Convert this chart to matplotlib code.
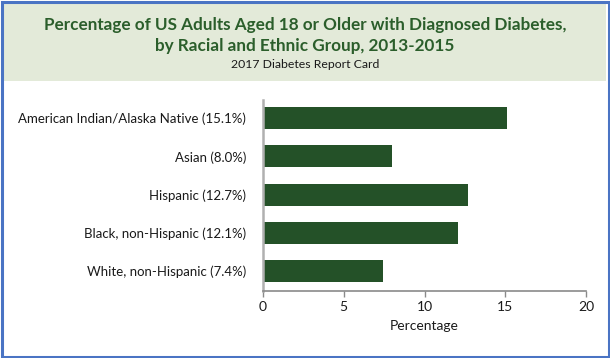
import matplotlib
matplotlib.use("Agg")
import matplotlib.pyplot as plt
from matplotlib.patches import Rectangle

categories = ["American Indian/Alaska Native (15.1%)", "Asian (8.0%)", "Hispanic (12.7%)",
              "Black, non-Hispanic (12.1%)", "White, non-Hispanic (7.4%)"]
values = [15.1, 8.0, 12.7, 12.1, 7.4]
xticks = [0, 5, 10, 15, 20]

BAR = "#245128"
TITLE = "#2b5e2b"
BAND = "#e3ead9"
BORDER = "#4a74c4"
plt.rcParams["font.family"] = ["Lato", "DejaVu Sans"]

fig = plt.figure(figsize=(6.1, 3.58), dpi=100)
W, H = 610, 358
# title band + border
fig.patches.append(Rectangle((3 / W, 1 - 81 / H), 603 / W, 78 / H, transform=fig.transFigure,
                             facecolor=BAND, edgecolor="none", zorder=0))
fig.patches.append(Rectangle((1.5 / W, 1.5 / H), 1 - 3 / W, 1 - 3 / H, transform=fig.transFigure,
                             facecolor="none", edgecolor=BORDER, linewidth=2.2, zorder=5))
fig.text(0.5, 1 - 25 / H, "Percentage of US Adults Aged 18 or Older with Diagnosed Diabetes,",
         ha="center", va="center", fontsize=12.3, fontweight="bold", color=TITLE)
fig.text(0.5, 1 - 46 / H, "by Racial and Ethnic Group, 2013-2015",
         ha="center", va="center", fontsize=12.3, fontweight="bold", color=TITLE)
fig.text(0.5, 1 - 64 / H, "2017 Diabetes Report Card", ha="center", va="center",
         fontsize=8.8, color="#1a1a1a")

ax = fig.add_axes([263 / W, 1 - 291 / H, 323 / W, 191 / H])
ypos = list(range(len(categories)))
ax.barh(ypos, values, height=0.575, color=BAR)
ax.set_ylim(4.52, -0.47)
ax.set_xlim(0, 20)
ax.set_xticks(xticks)
ax.set_yticks(ypos)
ax.set_yticklabels(categories)
for s in ["top", "right"]:
    ax.spines[s].set_visible(False)
ax.spines["left"].set_color("#b0b0b0")
ax.spines["left"].set_linewidth(1.8)
ax.spines["bottom"].set_color("#8a8a8a")
ax.spines["bottom"].set_linewidth(1.2)
ax.tick_params(axis="y", length=0, pad=12, labelsize=9.5, labelcolor="#1a1a1a")
ax.tick_params(axis="x", length=4, width=1, color="#8a8a8a", pad=3, labelsize=10, labelcolor="#1a1a1a")
ax.set_xlabel("Percentage", fontsize=10, color="#1a1a1a", labelpad=5)

fig.savefig("out.png", dpi=100, facecolor="white")
